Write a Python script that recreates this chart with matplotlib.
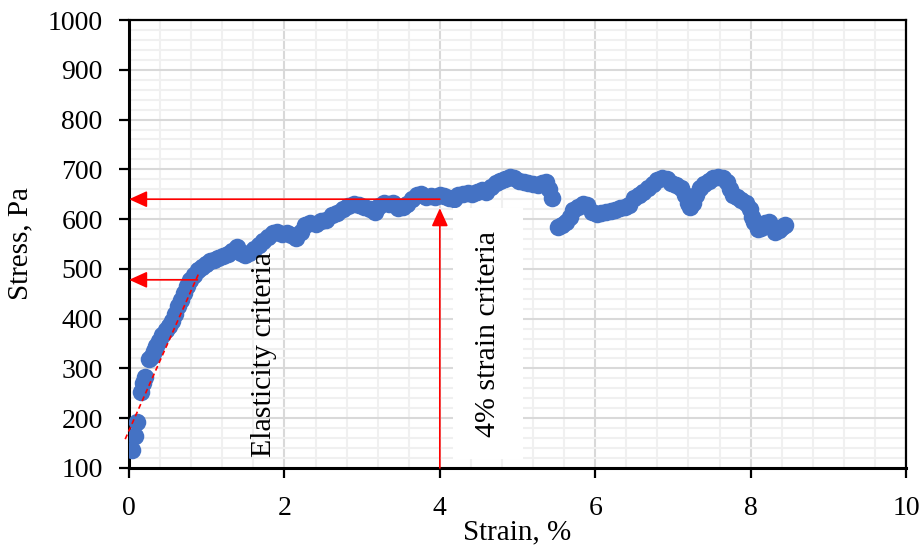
import numpy as np
import matplotlib.pyplot as plt
from matplotlib.ticker import MultipleLocator

# digitised stress-strain readings
strain = [0.04, 0.07, 0.10, 0.15, 0.18, 0.21, 0.26, 0.29, 0.32, 0.35, 0.39, 0.43, 0.47, 0.51,
          0.55, 0.59, 0.63, 0.67, 0.71, 0.75, 0.79, 0.84, 0.89, 0.94, 0.99, 1.04, 1.09, 1.15,
          1.21, 1.27, 1.33, 1.39, 1.44, 1.49, 1.55, 1.61, 1.67, 1.73, 1.79, 1.85, 1.91, 1.97,
          2.03, 2.09, 2.15, 2.21, 2.27, 2.33, 2.40, 2.47, 2.54, 2.61, 2.68, 2.75, 2.82, 2.89,
          2.96, 3.03, 3.10, 3.16, 3.22, 3.28, 3.34, 3.40, 3.46, 3.52, 3.58, 3.64, 3.70, 3.76,
          3.82, 3.88, 3.94, 4.00, 4.06, 4.12, 4.18, 4.24, 4.30, 4.36, 4.42, 4.48, 4.54, 4.60,
          4.66, 4.72, 4.78, 4.84, 4.90, 4.96, 5.02, 5.08, 5.14, 5.20, 5.26, 5.32, 5.37, 5.41,
          5.44,
          5.52, 5.57, 5.62, 5.67, 5.72, 5.78, 5.84, 5.90, 5.96, 6.02, 6.08, 6.14, 6.20, 6.26,
          6.32, 6.38, 6.44, 6.50, 6.56, 6.62, 6.68, 6.74, 6.80, 6.86, 6.92, 6.98, 7.04, 7.10,
          7.15, 7.19, 7.22, 7.26, 7.30, 7.35, 7.40, 7.46, 7.52, 7.58, 7.64, 7.70, 7.74, 7.77,
          7.82, 7.88, 7.94, 7.99, 8.02, 8.05, 8.09, 8.14, 8.19, 8.24, 8.28, 8.32, 8.36, 8.40,
          8.44]
stress = [136, 164, 192, 253, 270, 283, 318, 325, 335, 345, 355, 368, 378, 385,
          395, 410, 425, 438, 452, 466, 478, 488, 498, 504, 510, 515, 518, 522,
          526, 530, 536, 543, 532, 528, 532, 540, 548, 556, 565, 572, 575, 570,
          572, 568, 562, 575, 588, 592, 590, 596, 598, 608, 612, 620, 626, 630,
          628, 625, 620, 614, 626, 632, 630, 632, 622, 624, 630, 640, 648, 650,
          645, 646, 645, 648, 646, 642, 640, 648, 650, 652, 650, 655, 658, 655,
          664, 672, 676, 680, 684, 682, 676, 674, 672, 670, 668, 672, 674, 660,
          642,
          584, 588, 595, 605, 618, 625, 630, 628, 615, 610, 612, 614, 616, 618,
          622, 624, 628, 642, 648, 654, 662, 670, 678, 682, 680, 672, 668, 662,
          648, 632, 625, 632, 648, 662, 670, 676, 682, 684, 682, 675, 660, 648,
          645, 638, 632, 620, 605, 595, 580, 582, 592, 594, 585, 575, 578, 585,
          588]

# elastic fit line and criteria
fit_x = [-0.05, 0.90]
fit_y = [158, 492]
elastic_x, elastic_y = 0.88, 478
strain4_x, strain4_y = 4.0, 640
strain4_tip = 622

plt.rcParams['font.family'] = ['Liberation Serif', 'DejaVu Serif']

fig = plt.figure(figsize=(9.22, 5.48), dpi=100)
ax = fig.add_axes([0.14, 0.146, 0.8426, 0.8175])

ax.set_xlim(0, 10)
ax.set_ylim(100, 1000)
ax.xaxis.set_major_locator(MultipleLocator(2))
ax.xaxis.set_minor_locator(MultipleLocator(0.4))
ax.yaxis.set_major_locator(MultipleLocator(100))
ax.yaxis.set_minor_locator(MultipleLocator(20))
ax.grid(which='major', color='#d9d9d9', lw=1.5, zorder=0)
ax.grid(which='minor', color='#f0f0f0', lw=1.5, zorder=0)
ax.set_axisbelow(True)

for side in ['left', 'bottom']:
    ax.spines[side].set_linewidth(2.2)
for side in ['top', 'right']:
    ax.spines[side].set_linewidth(1.6)
ax.tick_params(which='major', direction='out', length=7, width=1.6, labelsize=20)
ax.tick_params(axis='y', pad=12)
ax.tick_params(axis='x', pad=13)
ax.tick_params(which='minor', length=0)

ax.scatter(strain, stress, s=160, color='#4472c4', zorder=3, linewidths=0)

ax.plot(fit_x, fit_y, color='red', ls=(0, (3, 2)), lw=1.2, zorder=4, clip_on=False)

arrow = dict(arrowstyle='-|>,head_length=1.1,head_width=0.5', color='red', lw=1.2,
             shrinkA=0, shrinkB=0)
ax.annotate('', xy=(0.0, elastic_y), xytext=(elastic_x, elastic_y), arrowprops=arrow,
            zorder=5, annotation_clip=False)
ax.annotate('', xy=(0.0, strain4_y), xytext=(strain4_x, strain4_y), arrowprops=arrow,
            zorder=5, annotation_clip=False)
ax.annotate('', xy=(strain4_x, strain4_tip), xytext=(strain4_x, 100), arrowprops=arrow,
            zorder=5, annotation_clip=False)

ax.text(1.74, 327, 'Elasticity criteria', rotation=90, fontsize=21.5,
        ha='center', va='center', zorder=6)
ax.text(4.62, 370, '4% strain criteria', rotation=90, fontsize=21.5,
        ha='center', va='center', zorder=6,
        bbox=dict(facecolor='white', edgecolor='none', pad=16))

ax.set_xlabel('Strain, %', fontsize=21, labelpad=-1)
ax.set_ylabel('Stress, Pa', fontsize=21, labelpad=10)

fig.savefig('out.png', dpi=100)
